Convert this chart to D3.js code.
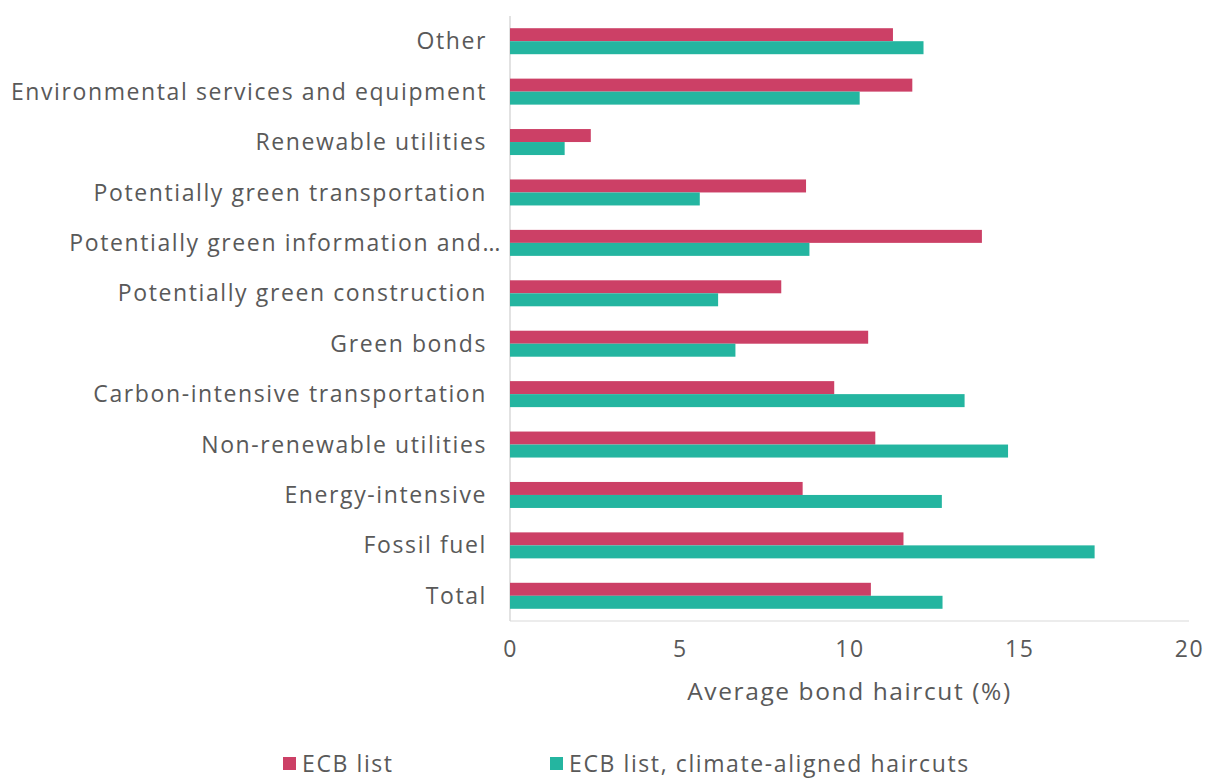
<!DOCTYPE html>
<html>
<head>
<meta charset="utf-8">
<script src="https://cdn.jsdelivr.net/npm/d3@7"></script>
<style>
  body { margin: 0; background: #fff; }
  svg text { font-family: "Open Sans", "Noto Sans", sans-serif; fill: #595959; letter-spacing: 1.6px; }
</style>
</head>
<body>
<svg id="chart" width="1206" height="778"></svg>
<script>
const categories = [
  "Other",
  "Environmental services and equipment",
  "Renewable utilities",
  "Potentially green transportation",
  "Potentially green information and…",
  "Potentially green construction",
  "Green bonds",
  "Carbon-intensive transportation",
  "Non-renewable utilities",
  "Energy-intensive",
  "Fossil fuel",
  "Total"
];
const ecbList = [11.28, 11.85, 2.38, 8.72, 13.90, 7.99, 10.55, 9.55, 10.76, 8.62, 11.59, 10.63];
const climateAligned = [12.18, 10.30, 1.61, 5.59, 8.82, 6.13, 6.64, 13.39, 14.67, 12.72, 17.22, 12.74];
const seriesNames = ["ECB list", "ECB list, climate-aligned haircuts"];
const colors = ["#cc4066", "#24b5a0"];
const xTicks = [0, 5, 10, 15, 20];

const margin = {top: 16, right: 17, bottom: 157, left: 510};
const svg = d3.select("#chart");
const width = 1206 - margin.left - margin.right;
const height = 778 - margin.top - margin.bottom;

const x = d3.scaleLinear().domain([0, 20]).range([0, width]);
const y = d3.scaleBand().domain(categories).range([0, height]);
const barH = 13;

const g = svg.append("g").attr("transform", `translate(${margin.left},${margin.top})`);

// axis lines
g.append("line").attr("x1", 0).attr("x2", 0).attr("y1", 0).attr("y2", height)
  .attr("stroke", "#d9d9d9").attr("stroke-width", 1.5);
g.append("line").attr("x1", 0).attr("x2", width).attr("y1", height).attr("y2", height)
  .attr("stroke", "#d9d9d9").attr("stroke-width", 1);

const series = [ecbList, climateAligned];
series.forEach((vals, s) => {
  g.selectAll(".bar-" + s)
    .data(categories)
    .join("rect")
      .attr("class", "bar-" + s)
      .attr("fill", colors[s])
      .attr("x", x(0))
      .attr("y", d => y(d) + y.bandwidth() / 2 - barH + s * barH)
      .attr("width", (d, i) => x(vals[i]) - x(0))
      .attr("height", barH);
});

// category labels
g.selectAll(".cat")
  .data(categories)
  .join("text")
    .attr("class", "cat")
    .attr("x", d => d.endsWith("…") ? -8 : -23)
    .attr("y", d => y(d) + y.bandwidth() / 2)
    .attr("dy", "0.35em")
    .attr("text-anchor", "end")
    .style("font-size", "23px")
    .text(d => d);

// x axis
const xAxis = g.append("g")
  .attr("transform", `translate(0,${height})`)
  .call(d3.axisBottom(x).tickValues(xTicks).tickSize(0).tickPadding(20));
xAxis.select(".domain").remove();
xAxis.selectAll("text").style("font-size", "23px").attr("fill", "#595959");

g.append("text")
  .attr("x", width / 2)
  .attr("y", height + 70)
  .attr("dy", "0.35em")
  .attr("text-anchor", "middle")
  .style("font-size", "24.5px")
  .text("Average bond haircut (%)");

// legend
const legendX = [283, 550];
const legend = svg.append("g").attr("transform", "translate(0,757)");
seriesNames.forEach((name, i) => {
  legend.append("rect").attr("x", legendX[i]).attr("y", 0).attr("width", 13).attr("height", 13).attr("fill", colors[i]);
  legend.append("text").attr("x", legendX[i] + 19).attr("y", 7).attr("dy", "0.35em")
    .style("font-size", "23px").text(name);
});
</script>
</body>
</html>
